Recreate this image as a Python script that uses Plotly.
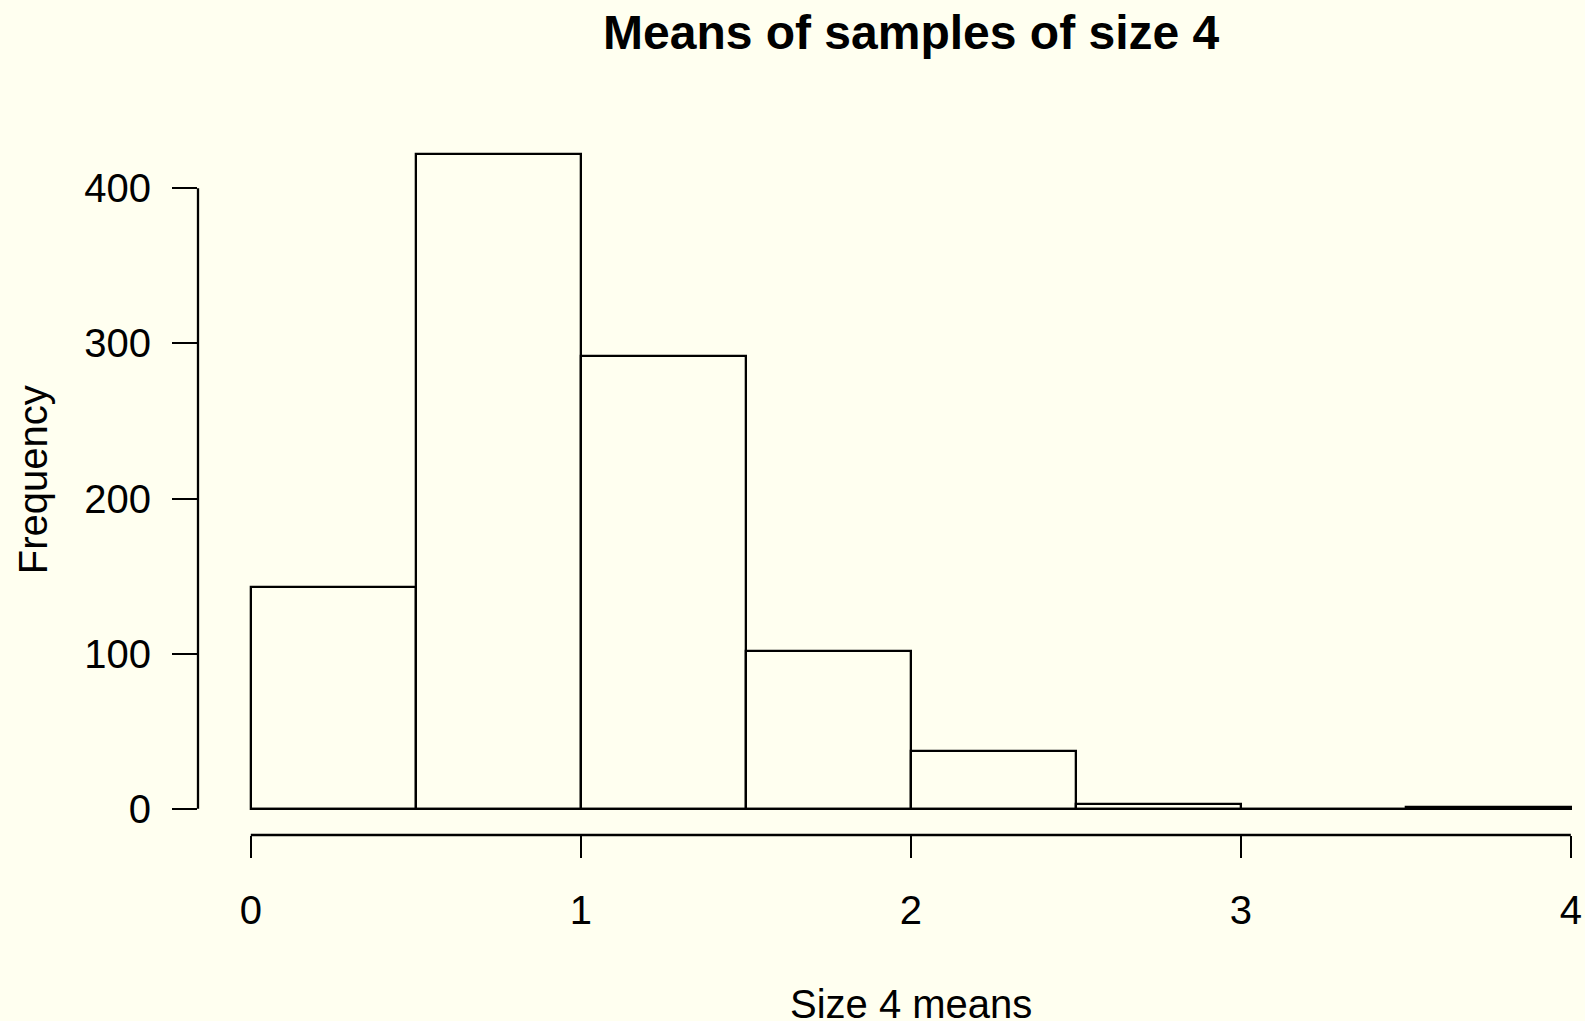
import plotly.graph_objects as go

# Histogram of sample means (n = 4), bins of width 0.5
bin_edges = [0.0, 0.5, 1.0, 1.5, 2.0, 2.5, 3.0, 3.5, 4.0]
counts = [143, 422, 292, 102, 37, 3, 0, 1]
x_ticks = [0, 1, 2, 3, 4]
y_ticks = [0, 100, 200, 300, 400]

title_text = "Means of samples of size 4"
x_title = "Size 4 means"
y_title = "Frequency"

BG = "#FFFFF0"
FONT = "Liberation Sans, Arial, Helvetica, sans-serif"
LW = 2.3

centers = [(a + b) / 2 for a, b in zip(bin_edges[:-1], bin_edges[1:])]
widths = [b - a for a, b in zip(bin_edges[:-1], bin_edges[1:])]

W, H = 1585, 1021
left, top, bottom = 198, 127.5, 186

# R-style 4% range extension on the left; the right side runs off the page
span_x = bin_edges[-1] - bin_edges[0]
x0 = bin_edges[0] - 0.04 * span_x
px_per_unit = 330.0
x1 = x0 + (W - left) / px_per_unit
ymax = max(counts)
y_range = [-0.04 * ymax, 1.04 * ymax]

fig = go.Figure()
fig.add_trace(go.Bar(
    x=centers, y=counts, width=widths,
    marker=dict(color=BG, line=dict(color="black", width=LW)),
    hoverinfo="x+y", showlegend=False,
))
# zero-height bins show as a line on the baseline
fig.add_trace(go.Scatter(
    x=[bin_edges[0], bin_edges[-1]], y=[0, 0], mode="lines",
    line=dict(color="black", width=LW), hoverinfo="skip", showlegend=False,
))

fig.update_layout(
    width=W, height=H,
    margin=dict(l=left, r=0, t=top, b=bottom),
    paper_bgcolor=BG, plot_bgcolor=BG,
    font=dict(family=FONT, size=40, color="black"),
    bargap=0,
    xaxis=dict(
        range=[x0, x1], tickvals=x_ticks, ticktext=[str(v) for v in x_ticks],
        showgrid=False, zeroline=False, showline=False,
        ticks="outside", ticklen=22, tickwidth=LW, tickcolor="black",
        ticklabelstandoff=18,
        tickfont=dict(size=40, family=FONT),
    ),
    yaxis=dict(
        range=y_range, tickvals=y_ticks, ticktext=[str(v) for v in y_ticks],
        showgrid=False, zeroline=False, showline=False,
        ticks="outside", ticklen=25, tickwidth=LW, tickcolor="black",
        ticklabelstandoff=13,
        tickfont=dict(size=40, family=FONT),
    ),
    shapes=[
        # axis segments spanning only the tick range
        dict(type="line", xref="x", yref="paper", x0=x_ticks[0], x1=x_ticks[-1], y0=0, y1=0,
             line=dict(color="black", width=LW)),
        dict(type="line", xref="paper", yref="y", x0=0, x1=0, y0=y_ticks[0], y1=y_ticks[-1],
             line=dict(color="black", width=LW)),
    ],
    annotations=[
        dict(text="<b>" + title_text + "</b>", xref="paper", yref="paper",
             x=(911 - left) / (W - left), y=1 + (top - 32) / (H - top - bottom),
             xanchor="center", yanchor="middle", showarrow=False,
             font=dict(size=48, family=FONT, color="black")),
        dict(text=x_title, xref="paper", yref="paper",
             x=(911 - left) / (W - left), y=-(1004 - (H - bottom)) / (H - top - bottom),
             xanchor="center", yanchor="middle", showarrow=False,
             font=dict(size=40, family=FONT, color="black")),
        dict(text=y_title, xref="paper", yref="paper", textangle=-90,
             x=-(left - 33) / (W - left), y=1 - (480 - top) / (H - top - bottom),
             xanchor="center", yanchor="middle", showarrow=False,
             font=dict(size=40, family=FONT, color="black")),
    ],
)

fig.write_html("out.html")
